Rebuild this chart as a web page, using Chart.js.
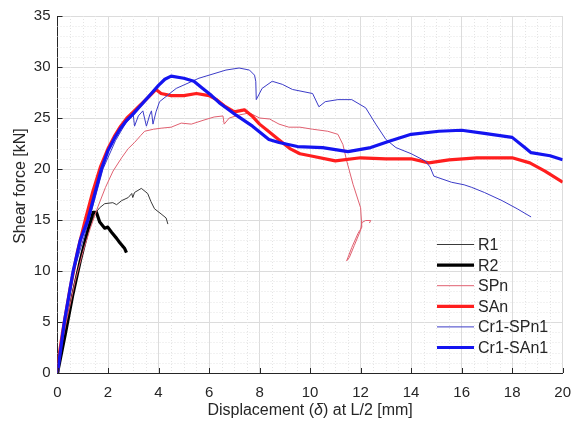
<!DOCTYPE html>
<html>
<head>
<meta charset="utf-8">
<script src="https://cdn.jsdelivr.net/npm/chart.js@4/dist/chart.umd.min.js"></script>
<style>
html,body{margin:0;padding:0;background:#fff;}
#wrap{width:582px;height:427px;}
</style>
</head>
<body>
<div id="wrap"><canvas id="c" width="582" height="427"></canvas></div>
<script>
// ---- data ----
const xTicks = [0, 2, 4, 6, 8, 10, 12, 14, 16, 18, 20];
const yTicks = [0, 5, 10, 15, 20, 25, 30, 35];
const seriesNames = ["R1", "R2", "SPn", "SAn", "Cr1-SPn1", "Cr1-SAn1"];
const xTitle = ["Displacement (", "\u03B4", ") at L/2 [mm]"];
const yTitle = "Shear force [kN]";

const r1X = [0, 0.3, 0.6, 0.9, 1.2, 1.48, 1.67, 1.87, 2.19, 2.34, 2.54, 2.8, 2.94, 2.98, 3.05, 3.32, 3.57, 3.7, 3.84, 4.1, 4.3, 4.37];
const r1Y = [0, 3.6, 7.4, 11, 13.8, 15.6, 16.2, 16.6, 16.7, 16.5, 16.9, 17.2, 17.6, 17.2, 17.7, 18.1, 17.6, 16.8, 16.1, 15.6, 15.2, 14.6];

const r2X = [0, 0.3, 0.6, 0.9, 1.2, 1.41, 1.54, 1.67, 1.87, 1.99, 2.14, 2.34, 2.46, 2.66, 2.73];
const r2Y = [0, 3.7, 7.6, 11, 14, 15.75, 15.75, 14.8, 14.2, 14.3, 13.8, 13.2, 12.8, 12.2, 11.8];

const spnX = [0, 0.1, 0.35, 0.7, 1.0, 1.3, 1.6, 1.9, 2.2, 2.54, 2.8, 3.05, 3.3, 3.45, 3.8, 4.1, 4.5, 4.9, 5.3, 5.8, 6.2, 6.55, 6.6, 6.8, 7.2, 7.6, 8.0, 8.4, 8.77, 9.16, 9.6, 10.1, 10.7, 11.1, 11.3, 11.45, 11.7, 12.0, 12.05, 11.9, 11.65, 11.45, 11.55, 11.75, 12.0, 12.05, 12.2, 12.4, 12.35];
const spnY = [0, 2, 5, 9, 11.8, 14.2, 16.3, 18.2, 19.8, 21.1, 22, 22.6, 23.3, 23.7, 23.9, 24.0, 24.1, 24.5, 24.4, 24.8, 25.1, 25.2, 24.4, 25.0, 25.3, 25.5, 25.0, 24.9, 24.4, 24.1, 24.1, 23.9, 23.7, 23.4, 22.4, 20.8, 18.5, 16.2, 14.3, 13.7, 12.3, 11.0, 11.3, 12.5, 14.0, 14.75, 14.95, 14.95, 14.7];

const sanX = [0, 0.05, 0.2, 0.5, 0.8, 1.1, 1.4, 1.7, 2.0, 2.25, 2.5, 2.75, 3.0, 3.25, 3.5, 3.7, 3.9, 4.1, 4.5, 5.0, 5.5, 6.0, 6.3, 6.6, 7.0, 7.4, 7.7, 8.0, 8.4, 8.8, 9.2, 9.6, 10.0, 11.0, 12.0, 13.0, 14.0, 14.7, 15.5, 16.6, 18.0, 18.7, 19.3, 20.0];
const sanY = [0, 1.5, 4, 8.3, 12, 15, 17.8, 20.2, 22, 23.2, 24.2, 25.0, 25.6, 26.2, 26.8, 27.3, 27.8, 27.4, 27.2, 27.2, 27.4, 27.2, 26.8, 26.2, 25.6, 25.8, 25.2, 24.4, 23.6, 22.8, 22.0, 21.5, 21.3, 20.8, 21.1, 21.0, 21.0, 20.6, 20.9, 21.1, 21.1, 20.6, 19.8, 18.7];

const cspX = [0, 0.3, 0.65, 1.25, 1.8, 2.3, 2.7, 3.0, 3.05, 3.2, 3.38, 3.52, 3.65, 3.72, 3.78, 3.9, 4.04, 4.7, 5.6, 6.67, 7.19, 7.6, 7.8, 7.85, 7.87, 8.1, 8.5, 8.9, 9.3, 10.1, 10.35, 10.6, 11.1, 11.65, 12.2, 12.6, 13.0, 13.4, 14.0, 14.55, 14.75, 14.9, 15.6, 16.1, 16.4, 16.9, 17.6, 18.2, 18.75];
const cspY = [0, 5, 10, 15, 20, 22.8, 24.5, 25.3, 24.2, 25.2, 25.7, 24.2, 25.3, 25.7, 24.4, 25.6, 26.6, 27.9, 28.9, 29.7, 29.9, 29.7, 29.2, 28.6, 26.8, 27.9, 28.6, 28.3, 27.8, 27.4, 26.1, 26.6, 26.8, 26.8, 26.0, 24.4, 22.9, 22.1, 21.5, 20.8, 20.2, 19.3, 18.7, 18.45, 18.2, 17.7, 16.9, 16.1, 15.3];

const csaX = [0, 0.27, 0.62, 0.9, 1.2, 1.5, 1.74, 2.0, 2.25, 2.5, 2.75, 3.0, 3.25, 3.5, 3.75, 4.0, 4.25, 4.5, 5.0, 5.4, 5.75, 6.1, 6.4, 7.06, 7.72, 8.37, 8.77, 9.5, 10.5, 11.5, 12.4, 13.1, 14.0, 15.1, 16.0, 16.9, 18.0, 18.5, 18.75, 19.5, 20.0];
const csaY = [0, 5, 10, 13, 15, 17.8, 20, 21.8, 23.0, 24, 24.8, 25.4, 26.1, 26.8, 27.5, 28.2, 28.8, 29.1, 28.9, 28.6, 27.9, 27.2, 26.5, 25.3, 24.2, 22.9, 22.6, 22.2, 22.1, 21.7, 22.1, 22.7, 23.4, 23.7, 23.8, 23.5, 23.1, 22.1, 21.6, 21.3, 20.9];

// ---- styles ----
const TXT = '#262626';
const FONT = '"Liberation Sans", Arial, sans-serif';
const pts = (xs, ys) => xs.map((x, i) => ({x: x, y: ys[i]}));

const seriesData = [pts(r1X, r1Y), pts(r2X, r2Y), pts(spnX, spnY), pts(sanX, sanY), pts(cspX, cspY), pts(csaX, csaY)];
const seriesColors = ['#3a3a3a', '#000000', '#e06070', '#ff1e1e', '#3c3cc8', '#1414f0'];
const seriesWidths = [1, 3.2, 1, 3.2, 1, 3.2];

const datasets = seriesNames.map((n, i) => ({
  label: n,
  data: seriesData[i],
  borderColor: seriesColors[i],
  backgroundColor: seriesColors[i],
  borderWidth: seriesWidths[i],
  borderJoinStyle: 'round',
  showLine: true,
  pointRadius: 0,
  fill: false,
  tension: 0,
  order: seriesNames.length - i
}));

const minorGrid = {
  id: 'minorGrid',
  beforeDatasetsDraw(chart) {
    const {ctx, chartArea: a, scales: {x, y}} = chart;
    ctx.save();
    ctx.strokeStyle = '#e4e4e4';
    ctx.lineWidth = 1;
    ctx.setLineDash([1, 2]);
    for (let i = 0; i < xTicks.length - 1; i++) {
      for (let k = 1; k < 4; k++) {
        const v = xTicks[i] + (xTicks[i + 1] - xTicks[i]) * k / 4;
        const px = Math.round(x.getPixelForValue(v)) + 0.5;
        ctx.beginPath(); ctx.moveTo(px, a.top); ctx.lineTo(px, a.bottom); ctx.stroke();
      }
    }
    for (let i = 0; i < yTicks.length - 1; i++) {
      for (let k = 1; k < 5; k++) {
        const v = yTicks[i] + (yTicks[i + 1] - yTicks[i]) * k / 5;
        const py = Math.round(y.getPixelForValue(v)) + 0.5;
        ctx.beginPath(); ctx.moveTo(a.left, py); ctx.lineTo(a.right, py); ctx.stroke();
      }
    }
    ctx.restore();
  },
  afterDraw(chart) {
    const {ctx, chartArea: a, scales: {x, y}} = chart;
    ctx.save();
    // inward tick marks
    ctx.strokeStyle = TXT;
    ctx.lineWidth = 1;
    xTicks.forEach(v => {
      const px = Math.round(x.getPixelForValue(v)) + 0.5;
      ctx.beginPath(); ctx.moveTo(px, a.bottom); ctx.lineTo(px, a.bottom - 5); ctx.stroke();
    });
    yTicks.forEach(v => {
      const py = Math.round(y.getPixelForValue(v)) + 0.5;
      ctx.beginPath(); ctx.moveTo(a.left, py); ctx.lineTo(a.left + 5, py); ctx.stroke();
    });
    // x axis title with italic delta
    const styles = ['normal', 'italic', 'normal'];
    let total = 0;
    xTitle.forEach((t, i) => { ctx.font = styles[i] + ' 16px ' + FONT; total += ctx.measureText(t).width; });
    let cx = (a.left + a.right) / 2 - total / 2;
    ctx.fillStyle = TXT;
    ctx.textBaseline = 'middle';
    ctx.textAlign = 'left';
    xTitle.forEach((t, i) => { ctx.font = styles[i] + ' 16px ' + FONT; ctx.fillText(t, cx, 411); cx += ctx.measureText(t).width; });
    // y axis title
    ctx.save();
    ctx.translate(21, 186);
    ctx.rotate(-Math.PI / 2);
    ctx.textAlign = 'center';
    ctx.font = '16px ' + FONT;
    ctx.fillText(yTitle, 0, 0);
    ctx.restore();
    // legend (no box)
    const lx0 = 437, lx1 = 474, tx = 478, ly0 = 244.5, dy = 20.6;
    ctx.textAlign = 'left';
    chart.data.datasets.forEach((ds, i) => {
      const yy = ly0 + i * dy;
      ctx.strokeStyle = ds.borderColor;
      ctx.lineWidth = ds.borderWidth;
      ctx.beginPath(); ctx.moveTo(lx0, yy); ctx.lineTo(lx1, yy); ctx.stroke();
      ctx.font = '16px ' + FONT;
      ctx.fillStyle = TXT;
      ctx.fillText(ds.label, tx, yy + 1);
    });
    ctx.restore();
  }
};

new Chart(document.getElementById('c'), {
  type: 'scatter',
  data: {datasets: datasets},
  options: {
    responsive: false,
    animation: false,
    layout: {padding: {top: 14, right: 17, left: 0, bottom: 0}},
    plugins: {legend: {display: false}, tooltip: {enabled: false}},
    scales: {
      x: {
        type: 'linear', min: 0, max: 20,
        afterBuildTicks: s => { s.ticks = xTicks.map(v => ({value: v})); },
        afterFit: s => { s.height = 54; },
        grid: {color: '#dcdcdc', lineWidth: 1, drawTicks: false},
        border: {color: TXT, width: 1},
        ticks: {color: TXT, font: {family: FONT, size: 15}, padding: 11, maxRotation: 0}
      },
      y: {
        type: 'linear', min: 0, max: 35,
        afterBuildTicks: s => { s.ticks = yTicks.map(v => ({value: v})); },
        afterFit: s => { s.width = 57.5; },
        grid: {color: '#dcdcdc', lineWidth: 1, drawTicks: false},
        border: {color: TXT, width: 1},
        ticks: {color: TXT, font: {family: FONT, size: 15}, padding: 7}
      }
    }
  },
  plugins: [minorGrid]
});
</script>
</body>
</html>
